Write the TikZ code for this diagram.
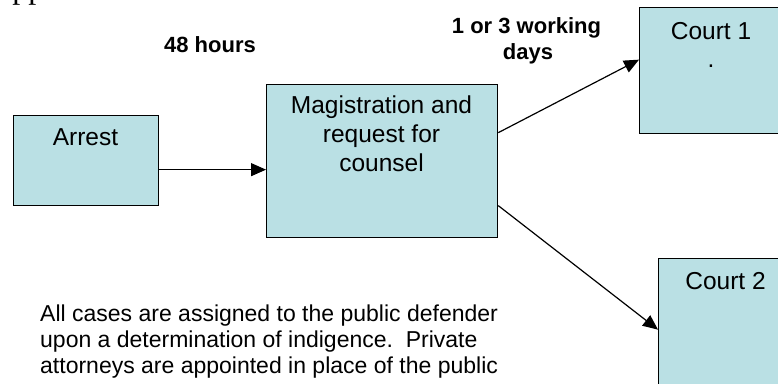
\documentclass[tikz,border=0pt]{standalone}
\usepackage{fontspec}
\setmainfont{Liberation Sans}
\newfontfamily\pageserif{Liberation Serif}
\usetikzlibrary{arrows.meta}
\definecolor{boxfill}{RGB}{186,224,228}
\begin{document}
\begin{tikzpicture}[x=1pt,y=-1pt,
  box/.style={draw=black, line width=1.3pt, fill=boxfill, inner sep=0pt, anchor=north west},
  boxtxt/.style={font=\fontsize{24.5}{28.5}\selectfont, inner sep=0pt, anchor=base},
  lbl/.style={font=\fontsize{22}{26}\selectfont\bfseries, inner sep=0pt, anchor=base},
  note/.style={font=\fontsize{23}{26}\selectfont, inner sep=0pt, anchor=base west},
  conn/.style={line width=1.2pt, -{Triangle[length=15pt,width=13pt]}}]
\useasboundingbox (0,0) rectangle (778,383);
\clip (0,0) rectangle (778,383);
% cropped line of page text
\node[font=\pageserif\fontsize{32}{36}\selectfont, inner sep=0pt, anchor=base west] (pagetext) at (-2,-1.5) {appointed to the case.};
% boxes
\node[box, minimum width=145pt, minimum height=90pt] (arrest) at (13,115) {};
\node[box, minimum width=231pt, minimum height=153pt] (mag) at (266,84) {};
\node[box, minimum width=144pt, minimum height=126pt] (court1) at (639,7) {};
\node[box, minimum width=135pt, minimum height=142pt] (court2) at (658,258) {};
% box texts
\node[boxtxt] (arresttxt) at (85.5,145) {Arrest};
\node[boxtxt] (magtxta) at (381.5,113) {Magistration and};
\node[boxtxt] (magtxtb) at (381.5,142) {request for};
\node[boxtxt] (magtxtc) at (381.5,171) {counsel};
\node[boxtxt] (courtatxt) at (711,39) {Court 1};
\node[boxtxt] (courtadot) at (711,67) {.};
\node[boxtxt] (courtbtxt) at (725.5,289) {Court 2};
% labels
\node[lbl] (hours) at (210,52) {48 hours};
\node[lbl] (daysa) at (526.5,33) {1 or 3 working};
\node[lbl] (daysb) at (528,59) {days};
% note
\node[note] (notea) at (40,321) {All cases are assigned to the public defender};
\node[note] (noteb) at (40,347) {upon a determination of indigence.\ \ Private};
\node[note] (notec) at (40,373) {attorneys are appointed in place of the public};
% connectors
\draw[conn] ([yshift=-9pt]arrest.east) -- ([yshift=-8.5pt]mag.west);
\draw[conn] ([yshift=28.5pt]mag.east) -- ([yshift=11pt]court1.west);
\draw[conn] ([yshift=-44.5pt]mag.east) -- (court2.west);
\end{tikzpicture}
\end{document}
